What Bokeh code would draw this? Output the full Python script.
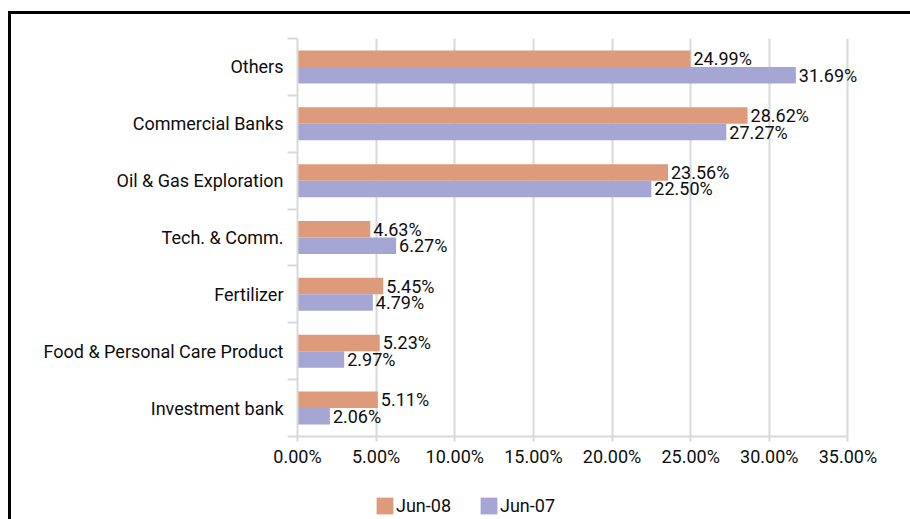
from bokeh.plotting import figure
from bokeh.layouts import column
from bokeh.models import (Range1d, FixedTicker, Legend, LegendItem, ColumnDataSource)
from bokeh.core.properties import value
from bokeh.embed import file_html
from bokeh.resources import INLINE

# ---- data ----
categories = ["Others", "Commercial Banks", "Oil & Gas Exploration", "Tech. & Comm.",
              "Fertilizer", "Food & Personal Care Product", "Investment bank"]
jun08 = [24.99, 28.62, 23.56, 4.63, 5.45, 5.23, 5.11]
jun07 = [31.69, 27.27, 22.50, 6.27, 4.79, 2.97, 2.06]
series_names = ["Jun-08", "Jun-07"]
x_ticks = [0, 5, 10, 15, 20, 25, 30, 35]
x_tick_labels = ["0.00%", "5.00%", "10.00%", "15.00%", "20.00%", "25.00%", "30.00%", "35.00%"]

# ---- style ----
FONT = "Roboto"
FS = "18px"
ORANGE = "#DE9B7C"
PURPLE = "#A5A6D3"
GRID = "#D9D9D9"
TXT = "#0d0d0d"
BAR_H = 0.29
X_PAD = 1.5          # room past the last tick for value labels

n = len(categories)
slot = [n - i - 0.5 for i in range(n)]          # category slot centres (top to bottom)
bounds = list(range(n + 1))                      # slot boundaries

src = ColumnDataSource(dict(
    cat=categories, slot=slot,
    y08=[s + BAR_H / 2 for s in slot], y07=[s - BAR_H / 2 for s in slot],
    jun08=jun08, jun07=jun07,
    lab08=[f"{v:.2f}%" for v in jun08],
    lab07=[f"{v:.2f}%" for v in jun07],
))

p = figure(width=899, height=462,
           y_range=Range1d(0, n),
           x_range=Range1d(x_ticks[0], x_ticks[-1] + X_PAD),
           output_backend="svg", toolbar_location=None,
           min_border_left=286, min_border_right=39, min_border_top=24, min_border_bottom=40)
p.outline_line_color = None
p.background_fill_color = "white"
p.border_fill_color = "white"

# x axis
xa = p.xaxis[0]
xa.bounds = (x_ticks[0], x_ticks[-1])
xa.ticker = FixedTicker(ticks=x_ticks)
xa.major_label_overrides = dict(zip(x_ticks, x_tick_labels))
xa.axis_line_color = GRID
xa.axis_line_width = 2
xa.major_tick_line_color = GRID
xa.major_tick_line_width = 2
xa.major_tick_out = 5
xa.major_tick_in = 0
xa.minor_tick_line_color = None
xa.minor_tick_out = 0
xa.major_label_text_font = FONT
xa.major_label_text_font_size = FS
xa.major_label_text_color = TXT
xa.major_label_standoff = 4
p.xgrid.ticker = FixedTicker(ticks=x_ticks)
p.xgrid.grid_line_color = GRID
p.xgrid.grid_line_width = 2
p.ygrid.grid_line_color = None

# y axis: labels at slot centres, tick marks at slot boundaries
ya = p.yaxis[0]
ya.ticker = FixedTicker(ticks=slot, minor_ticks=bounds)
ya.major_label_overrides = dict(zip(slot, categories))
ya.major_tick_line_color = None
ya.major_tick_out = 0
ya.major_tick_in = 0
ya.minor_tick_line_color = GRID
ya.minor_tick_line_width = 2
ya.minor_tick_out = 10
ya.minor_tick_in = 0
ya.axis_line_color = GRID
ya.axis_line_width = 2
ya.major_label_text_font = FONT
ya.major_label_text_font_size = FS
ya.major_label_text_color = TXT
ya.major_label_standoff = 4

# bars
p.hbar(y="y08", left=0, right="jun08", height=BAR_H,
       fill_color=ORANGE, line_color=None, source=src)
p.hbar(y="y07", left=0, right="jun07", height=BAR_H,
       fill_color=PURPLE, line_color=None, source=src)

# value labels
for col, lab, ycol in (("jun08", "lab08", "y08"), ("jun07", "lab07", "y07")):
    p.text(x=col, y=ycol, text=lab, source=src,
           x_offset=3, text_baseline="middle", text_align="left",
           text_font=value(FONT), text_font_size=FS, text_color=TXT)

# legend strip below the chart (its renderers sit outside its own ranges)
q = figure(width=899, height=43, x_range=Range1d(-2, -1), y_range=Range1d(100, 101),
           x_axis_location=None, y_axis_location=None,
           output_backend="svg", toolbar_location=None, min_border=0)
q.outline_line_color = None
q.xgrid.grid_line_color = None
q.ygrid.grid_line_color = None
l1 = q.hbar(y="y08", left=0, right="jun08", height=BAR_H,
            fill_color=ORANGE, line_color=None, source=src)
l2 = q.hbar(y="y07", left=0, right="jun07", height=BAR_H,
            fill_color=PURPLE, line_color=None, source=src)
legend = Legend(items=[LegendItem(label=series_names[0], renderers=[l1]),
                       LegendItem(label=series_names[1], renderers=[l2])],
                orientation="horizontal", location=(77, 3),
                glyph_width=21, glyph_height=21, label_standoff=1, spacing=27,
                padding=0, margin=0, border_line_color=None, background_fill_alpha=0,
                label_text_font=FONT, label_text_font_size=FS, label_text_color=TXT,
                label_height=21)
q.add_layout(legend, "center")

page = column(p, q, spacing=0,
              styles={"border-top": "3px solid black", "border-left": "3px solid black",
                      "margin-left": "8px", "margin-top": "11px"})

open("out.html", "w").write(file_html(page, INLINE))
